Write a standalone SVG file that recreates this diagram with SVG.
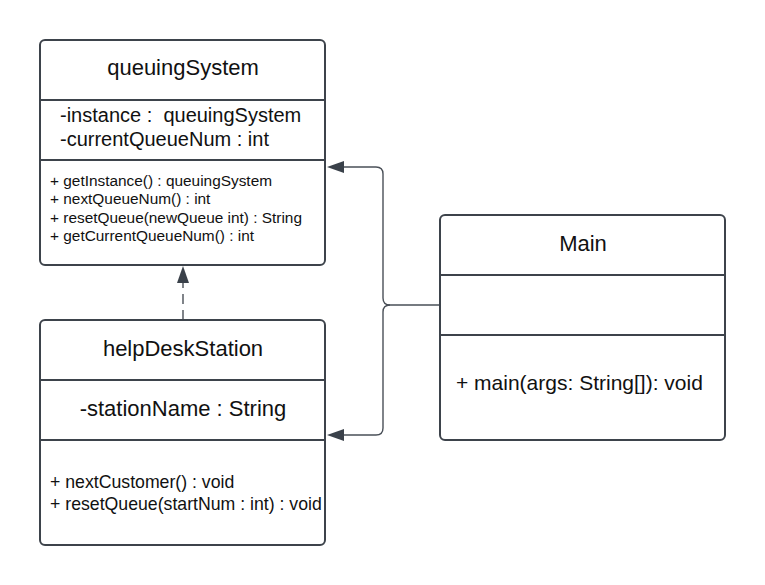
<svg xmlns="http://www.w3.org/2000/svg" width="765" height="585" viewBox="0 0 765 585">
<style>
.box{fill:#fff;stroke:#3d434b;stroke-width:2}
.div{stroke:#3d434b;stroke-width:2}
.t{font-family:"Liberation Sans",Arial,sans-serif;fill:#111}
.conn{fill:none;stroke:#4a5058;stroke-width:1.4}
.head{fill:#3a414a}
</style>
<rect width="765" height="585" fill="#fff"/>
<g id="connectors">
<path class="conn" d="M440 305 L390 305 Q383 305 383 298 L383 174 Q383 167 376 167 L344 167"/>
<path class="conn" d="M390 305 Q383 305 383 312 L383 428 Q383 435 376 435 L344 435"/>
<path class="head" d="M327 167 L344 161 L344 173 Z"/>
<path class="head" d="M327 435 L344 429 L344 441 Z"/>
<path class="conn" d="M183 320 L183 283" stroke-dasharray="10 6"/>
<path class="head" d="M183 266 L177 283 L189 283 Z"/>
</g>
<g id="queuingSystem">
<rect class="box" x="40" y="40" width="285" height="225" rx="5"/>
<line class="div" x1="40" y1="100" x2="325" y2="100"/>
<line class="div" x1="40" y1="160" x2="325" y2="160"/>
<text class="t" x="183" y="75" font-size="22" text-anchor="middle">queuingSystem</text>
<text class="t" x="60" y="122" font-size="20" xml:space="preserve">-instance :  queuingSystem</text>
<text class="t" x="60" y="146" font-size="20">-currentQueueNum : int</text>
<text class="t" x="50" y="186" font-size="15.4">+ getInstance() : queuingSystem</text>
<text class="t" x="50" y="204" font-size="15.4">+ nextQueueNum() : int</text>
<text class="t" x="50" y="223" font-size="15.4">+ resetQueue(newQueue int) : String</text>
<text class="t" x="50" y="241" font-size="15.4">+ getCurrentQueueNum() : int</text>
</g>
<g id="helpDeskStation">
<rect class="box" x="40" y="320" width="285" height="225" rx="5"/>
<line class="div" x1="40" y1="380" x2="325" y2="380"/>
<line class="div" x1="40" y1="440" x2="325" y2="440"/>
<text class="t" x="183" y="356" font-size="22" text-anchor="middle">helpDeskStation</text>
<text class="t" x="183" y="416" font-size="22" text-anchor="middle">-stationName : String</text>
<text class="t" x="50" y="488" font-size="17.7">+ nextCustomer() : void</text>
<text class="t" x="50" y="510" font-size="17.7">+ resetQueue(startNum : int) : void</text>
</g>
<g id="Main">
<rect class="box" x="440" y="215" width="285" height="225" rx="5"/>
<line class="div" x1="440" y1="275" x2="725" y2="275"/>
<line class="div" x1="440" y1="335" x2="725" y2="335"/>
<text class="t" x="583" y="251" font-size="22" text-anchor="middle">Main</text>
<text class="t" x="456" y="390" font-size="21">+ main(args: String[]): void</text>
</g>
</svg>
